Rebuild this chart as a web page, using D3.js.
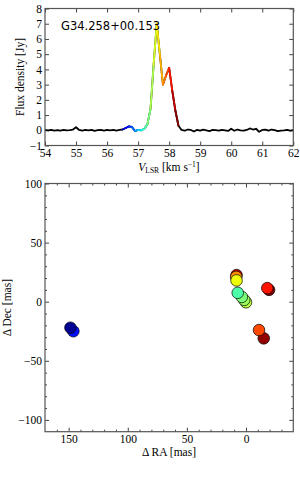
<!DOCTYPE html>
<html>
<head>
    <meta charset="utf-8">
    <title>G34.258+00.153</title>
    <script src="https://d3js.org/d3.v7.min.js"></script>
    <style>
        body { margin: 0; background: #fff; }
        .tick text { font-family: "Liberation Serif", serif; font-size: 11.5px; fill: #000; }
        .tick line { stroke: #444; stroke-width: 1; }
        .lbl { font-family: "Liberation Serif", serif; font-size: 11.5px; fill: #000; }
    </style>
</head>
<body>
    <script>
        // spectrum channels (km/s) and flux density (Jy)
        var velocity = [54.0, 54.1, 54.2, 54.3, 54.4, 54.5, 54.6, 54.7, 54.8, 54.9,
            55.0, 55.1, 55.2, 55.3, 55.4, 55.5, 55.6, 55.7, 55.8, 55.9,
            56.0, 56.1, 56.2, 56.3, 56.4, 56.5, 56.6, 56.7, 56.8, 56.9,
            57.0, 57.1, 57.2, 57.3, 57.4, 57.5, 57.6, 57.7, 57.8, 57.9,
            58.0, 58.1, 58.2, 58.3, 58.4, 58.5, 58.6, 58.7, 58.8, 58.9,
            59.0, 59.1, 59.2, 59.3, 59.4, 59.5, 59.6, 59.7, 59.8, 59.9,
            60.0, 60.1, 60.2, 60.3, 60.4, 60.5, 60.6, 60.7, 60.8, 60.9,
            61.0, 61.1, 61.2, 61.3, 61.4, 61.5, 61.6, 61.7, 61.8, 61.9, 62.0];
        var flux = [0.02, 0.00, 0.03, -0.02, 0.01, -0.03, 0.02, 0.00, 0.01, 0.05,
            0.20, 0.02, -0.03, 0.02, 0.00, 0.03, -0.04, 0.01, 0.02, -0.02,
            0.03, -0.01, 0.02, -0.02, 0.03, 0.05, 0.15, 0.25, 0.22, -0.05,
            0.02, 0.00, 0.10, 0.40, 1.40, 4.30, 7.00, 5.00, 3.00, 3.60,
            4.10, 2.60, 1.30, 0.30, 0.02, -0.03, 0.05, 0.02, -0.08, 0.03,
            -0.02, 0.04, 0.00, -0.05, 0.03, 0.01, -0.02, 0.03, 0.00, -0.04,
            0.10, -0.03, 0.05, 0.00, -0.03, 0.02, 0.12, 0.05, 0.10, -0.10,
            0.02, 0.04, -0.02, 0.05, 0.01, -0.06, -0.02, 0.00, 0.03, -0.02, 0.01];
        var colourRange = [56.5, 58.3];   // channels drawn in colour
        var colourScaleDomain = [56.45, 58.25];

        // maser spots, in drawing order
        var spotVel = [56.7, 56.48, 58.22, 57.95, 58.25, 58.05, 58.15, 57.82, 57.6, 57.48, 57.42, 57.35, 57.25];
        var spotRA  = [146, 148.5, -15, -11, -19.5, -18, 8, 8.3, 8, 0, 1.5, 3.5, 7];
        var spotDec = [-25, -22, -31, -24, 10, 11.5, 22.5, 21, 18, -0.5, 1.5, 4, 7.5];

        var sourceName = "G34.258+00.153";
        var specXTicks = [54, 55, 56, 57, 58, 59, 60, 61, 62];
        var specYTicks = [-1, 0, 1, 2, 3, 4, 5, 6, 7, 8];
        var mapXTicks = [150, 100, 50, 0];
        var mapYTicks = [100, 50, 0, -50, -100];

        var width = 300, height = 480;
        var svg = d3.select("body").append("svg")
            .attr("width", width)
            .attr("height", height);

        // jet colormap
        var jr = d3.scaleLinear().domain([0, 0.35, 0.66, 0.89, 1]).range([0, 0, 1, 1, 0.5]).clamp(true);
        var jg = d3.scaleLinear().domain([0, 0.125, 0.375, 0.64, 0.91, 1]).range([0, 0, 1, 1, 0, 0]).clamp(true);
        var jb = d3.scaleLinear().domain([0, 0.11, 0.34, 0.65, 1]).range([0.5, 1, 1, 0, 0]).clamp(true);
        var tScale = d3.scaleLinear().domain(colourScaleDomain).range([0, 1]).clamp(true);
        function jet(v) {
            var t = tScale(v);
            return d3.rgb(jr(t) * 255, jg(t) * 255, jb(t) * 255).toString();
        }
        function fmt(d) { return d < 0 ? "\u2212" + Math.abs(d) : d; }

        // ---------- spectrum ----------
        var x1 = d3.scaleLinear().domain([54, 62]).range([45, 293.3]);
        var y1 = d3.scaleLinear().domain([-1, 8]).range([145.5, 8.5]);
        var g1 = svg.append("g");

        g1.append("g").attr("transform", "translate(0,145.5)")
            .call(d3.axisBottom(x1).tickValues(specXTicks).tickSize(-4).tickPadding(3.5).tickFormat(d3.format("d")));
        g1.append("g").attr("transform", "translate(0,8.5)")
            .call(d3.axisTop(x1).tickValues(specXTicks).tickSize(-4).tickFormat(""));
        g1.append("g").attr("transform", "translate(45,0)")
            .call(d3.axisLeft(y1).tickValues(specYTicks).tickSize(-4).tickPadding(3).tickFormat(fmt));
        g1.append("g").attr("transform", "translate(293.3,0)")
            .call(d3.axisRight(y1).tickValues(specYTicks).tickSize(-4).tickFormat(""));
        g1.selectAll(".domain").remove();

        var pts = velocity.map(function(v, i) { return [v, flux[i]]; });
        var line = d3.line().x(function(d) { return x1(d[0]); }).y(function(d) { return y1(d[1]); });
        g1.append("path").datum(pts)
            .attr("d", line)
            .attr("fill", "none")
            .attr("stroke", "#000")
            .attr("stroke-width", 1.8)
            .attr("stroke-linejoin", "round");

        var segs = [];
        for (var i = 0; i < pts.length - 1; i++) {
            if (pts[i][0] >= colourRange[0] - 1e-6 && pts[i + 1][0] <= colourRange[1] + 1e-6) {
                segs.push([pts[i], pts[i + 1]]);
            }
        }
        g1.selectAll("path.seg").data(segs).enter().append("path")
            .attr("class", "seg")
            .attr("d", line)
            .attr("fill", "none")
            .attr("stroke", function(d) { return jet((d[0][0] + d[1][0]) / 2); })
            .attr("stroke-width", 1.9)
            .attr("stroke-linecap", "round");

        g1.append("rect")
            .attr("x", 45).attr("y", 8.5)
            .attr("width", 248.3).attr("height", 137)
            .attr("fill", "none").attr("stroke", "#555").attr("stroke-width", 1.2);

        g1.append("text")
            .attr("x", 61).attr("y", 29.5)
            .style("font-family", "'DejaVu Sans', sans-serif")
            .style("font-size", "11.5px")
            .text(sourceName);

        var xl = g1.append("text").attr("class", "lbl")
            .attr("x", 169).attr("y", 171).attr("text-anchor", "middle");
        xl.append("tspan").style("font-style", "italic").text("V");
        xl.append("tspan").attr("dy", 2).style("font-size", "7.5px").text("LSR");
        xl.append("tspan").attr("dy", -2).text(" [km s");
        xl.append("tspan").attr("dy", -4).style("font-size", "7.5px").text("\u22121");
        xl.append("tspan").attr("dy", 4).text("]");

        g1.append("text").attr("class", "lbl")
            .attr("transform", "translate(24,77) rotate(-90)")
            .attr("text-anchor", "middle")
            .text("Flux density [Jy]");

        // ---------- spot map ----------
        var x2 = d3.scaleLinear().domain([170, -40]).range([45, 293.3]);
        var y2 = d3.scaleLinear().domain([-110, 100]).range([431.7, 183.5]);
        var g2 = svg.append("g");
        var minorX = [160, 140, 130, 120, 110, 90, 80, 70, 60, 40, 30, 20, 10, -10, -20, -30];
        var minorY = [90, 80, 70, 60, 40, 30, 20, 10, -10, -20, -30, -40, -60, -70, -80, -90];

        g2.append("g").attr("transform", "translate(0,431.7)")
            .call(d3.axisBottom(x2).tickValues(mapXTicks).tickSize(-4).tickPadding(3.5).tickFormat(fmt));
        g2.append("g").attr("transform", "translate(0,431.7)")
            .call(d3.axisBottom(x2).tickValues(minorX).tickSize(-2).tickFormat(""));
        g2.append("g").attr("transform", "translate(0,183.5)")
            .call(d3.axisTop(x2).tickValues(mapXTicks).tickSize(-4).tickFormat(""));
        g2.append("g").attr("transform", "translate(0,183.5)")
            .call(d3.axisTop(x2).tickValues(minorX).tickSize(-2).tickFormat(""));
        g2.append("g").attr("transform", "translate(45,0)")
            .call(d3.axisLeft(y2).tickValues(mapYTicks).tickSize(-4).tickPadding(3).tickFormat(fmt));
        g2.append("g").attr("transform", "translate(45,0)")
            .call(d3.axisLeft(y2).tickValues(minorY).tickSize(-2).tickFormat(""));
        g2.append("g").attr("transform", "translate(293.3,0)")
            .call(d3.axisRight(y2).tickValues(mapYTicks).tickSize(-4).tickFormat(""));
        g2.append("g").attr("transform", "translate(293.3,0)")
            .call(d3.axisRight(y2).tickValues(minorY).tickSize(-2).tickFormat(""));
        g2.selectAll(".domain").remove();

        g2.selectAll("circle.spot").data(spotVel).enter().append("circle")
            .attr("class", "spot")
            .attr("cx", function(d, i) { return x2(spotRA[i]); })
            .attr("cy", function(d, i) { return y2(spotDec[i]); })
            .attr("r", 5.8)
            .attr("fill", function(d) { return jet(d); })
            .attr("stroke", "#000")
            .attr("stroke-width", 0.7);

        g2.append("rect")
            .attr("x", 45).attr("y", 183.5)
            .attr("width", 248.3).attr("height", 248.2)
            .attr("fill", "none").attr("stroke", "#555").attr("stroke-width", 1.2);

        g2.append("text").attr("class", "lbl")
            .attr("x", 169).attr("y", 456).attr("text-anchor", "middle")
            .text("\u0394 RA [mas]");
        g2.append("text").attr("class", "lbl")
            .attr("transform", "translate(11,307.6) rotate(-90)")
            .attr("text-anchor", "middle")
            .text("\u0394 Dec [mas]");
    </script>
</body>
</html>
